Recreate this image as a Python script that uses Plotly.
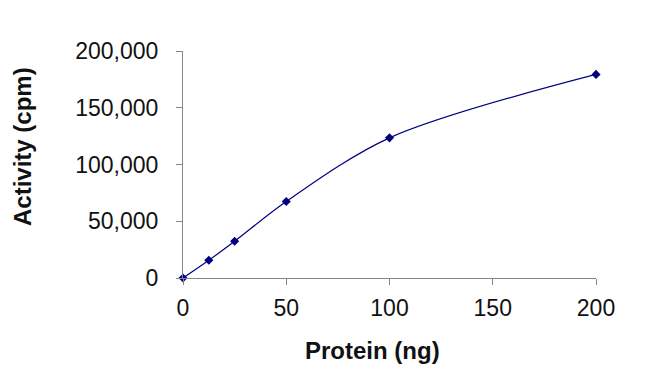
import plotly.graph_objects as go

protein_ng = [0, 12.5, 25, 50, 100, 200]
activity_cpm = [0, 15600, 32400, 67400, 123500, 179400]
x_ticks = [0, 50, 100, 150, 200]
y_ticks = [0, 50000, 100000, 150000, 200000]
y_tick_labels = ["0", "50,000", "100,000", "150,000", "200,000"]

navy = "#000080"
font_family = "Liberation Sans, Arial, sans-serif"

fig = go.Figure()
fig.add_trace(go.Scatter(
    x=protein_ng, y=activity_cpm,
    mode="lines+markers",
    line=dict(color=navy, width=1.2, shape="spline", smoothing=0.9),
    marker=dict(symbol="diamond", size=7, color=navy),
    cliponaxis=False,
    showlegend=False,
))

axis_common = dict(
    showgrid=False, zeroline=False, showline=True,
    linecolor="#868686", linewidth=1,
    ticks="outside", ticklen=6, tickcolor="#868686", tickwidth=1,
    tickfont=dict(family=font_family, size=23, color="#111111"),
)

fig.update_xaxes(range=[0, 200], tickvals=x_ticks, ticktext=[str(v) for v in x_ticks],
                 ticklabelstandoff=3, **axis_common)
fig.update_yaxes(range=[0, 200000], tickvals=y_ticks, ticktext=y_tick_labels,
                 ticklabelstandoff=13, **axis_common)

# page has ~8px body offset; plot area target: x 183..596, y 51..278
L, R, T, B = 183, 596, 51, 278
off = 8
fig.add_annotation(
    text="<b>Protein (ng)</b>", xref="paper", yref="paper",
    x=(372 - L) / (R - L), y=-(350 - B) / (B - T),
    showarrow=False, xanchor="center", yanchor="middle",
    font=dict(family=font_family, size=24, color="#111111"),
)
fig.add_annotation(
    text="<b>Activity (cpm)</b>", xref="paper", yref="paper",
    x=-(L - 22) / (R - L), y=(B - 147) / (B - T),
    showarrow=False, xanchor="center", yanchor="middle", textangle=-90,
    font=dict(family=font_family, size=24, color="#111111"),
)

fig.update_layout(
    width=647, height=377,
    margin=dict(l=L - off, r=647 - R + off, t=T - off, b=377 - B + off),
    paper_bgcolor="white", plot_bgcolor="white",
)

fig.write_html("out.html")
